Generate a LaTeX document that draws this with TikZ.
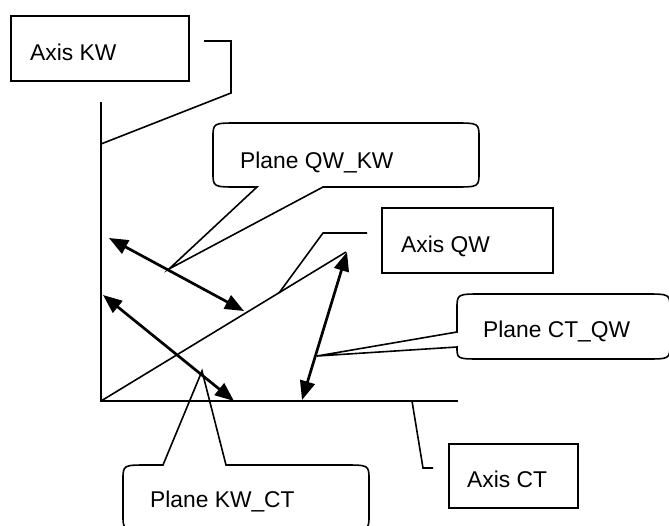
\documentclass[tikz,border=0pt]{standalone}
\usepackage{fontspec}
\setmainfont{Liberation Sans}
\usetikzlibrary{arrows.meta}
\begin{document}
\begin{tikzpicture}[x=1pt,y=-1pt,
  thinline/.style={line width=1.6pt, line join=miter},
  axisline/.style={line width=2.1pt},
  framebox/.style={line width=1.7pt},
  dblarrow/.style={line width=2.7pt,
    {Triangle[length=19pt,width=15pt]}-{Triangle[length=19pt,width=15pt]}},
  txt/.style={anchor=base west, inner sep=0pt, font=\fontsize{22.8}{27}\selectfont},
]
\useasboundingbox[fill=white] (0,0) rectangle (669,525);

% coordinate axes
\coordinate (O) at (101,401);
\coordinate (kwtop) at (101,102);
\coordinate (ctend) at (458,401);
\coordinate (qwend) at (346,252);
\draw[axisline] (kwtop) -- (O) -- (ctend);
\draw[thinline] (O) -- (qwend);

% plane arrows
\coordinate (a1s) at (109,238);  \coordinate (a1e) at (244,311);
\coordinate (a2s) at (103,295);  \coordinate (a2e) at (234,401);
\coordinate (a3s) at (347,252);  \coordinate (a3e) at (302,400);
\draw[dblarrow] (a1s) -- (a1e);
\draw[dblarrow] (a2s) -- (a2e);
\draw[dblarrow] (a3s) -- (a3e);

% axis label boxes
\draw[framebox] (11,16) rectangle (189,81);
\node[txt] (kw) at (30,60) {Axis KW};
\draw[framebox] (382,208) rectangle (553,273);
\node[txt] (qw) at (401,252) {Axis QW};
\draw[framebox] (449,444) rectangle (578,508);
\node[txt] (ct) at (467,487) {Axis CT};

% leader lines from the axis labels
\coordinate (kwlead) at (204,41);
\coordinate (kwhit) at (101,144);
\draw[thinline] (kwlead) -- (231,41) -- (231,93) -- (kwhit);
\coordinate (qwlead) at (367,233);
\coordinate (qwhit) at (279,293);
\draw[thinline] (qwlead) -- (323,233) -- (qwhit);
\coordinate (ctlead) at (433,468);
\coordinate (cthit) at (412,401);
\draw[thinline] (cthit) -- (423,468) -- (ctlead);

% callout for plane QW_KW
\coordinate (p1tip) at (169,269);
\draw[thinline] (213,138) .. controls (213,123) .. (238,123) -- (454,123)
  .. controls (479,123) .. (479,138) -- (479,172)
  .. controls (479,187) .. (454,187) -- (323,187) -- (p1tip) -- (257,187)
  -- (238,187) .. controls (213,187) .. (213,172) -- cycle;
\node[txt] (pqk) at (240,168) {Plane QW\_KW};

% callout for plane CT_QW
\coordinate (p3tip) at (317,356);
\draw[thinline] (457,309) .. controls (457,294) .. (482,294) -- (645,294)
  .. controls (670,294) .. (670,309) -- (670,344)
  .. controls (670,359) .. (645,359) -- (482,359)
  .. controls (457,359) .. (457,347) -- (p3tip) -- (457,332) -- cycle;
\node[txt] (pcq) at (483,337) {Plane CT\_QW};

% callout for plane KW_CT
\coordinate (p2tip) at (202,371);
\draw[thinline] (123,480) .. controls (123,465) .. (148,465) -- (163,465)
  -- (p2tip) -- (226,465) -- (344,465)
  .. controls (369,465) .. (369,480) -- (369,515)
  .. controls (369,530) .. (344,530) -- (148,530)
  .. controls (123,530) .. (123,515) -- cycle;
\node[txt] (pkc) at (150,507) {Plane KW\_CT};
\end{tikzpicture}
\end{document}
